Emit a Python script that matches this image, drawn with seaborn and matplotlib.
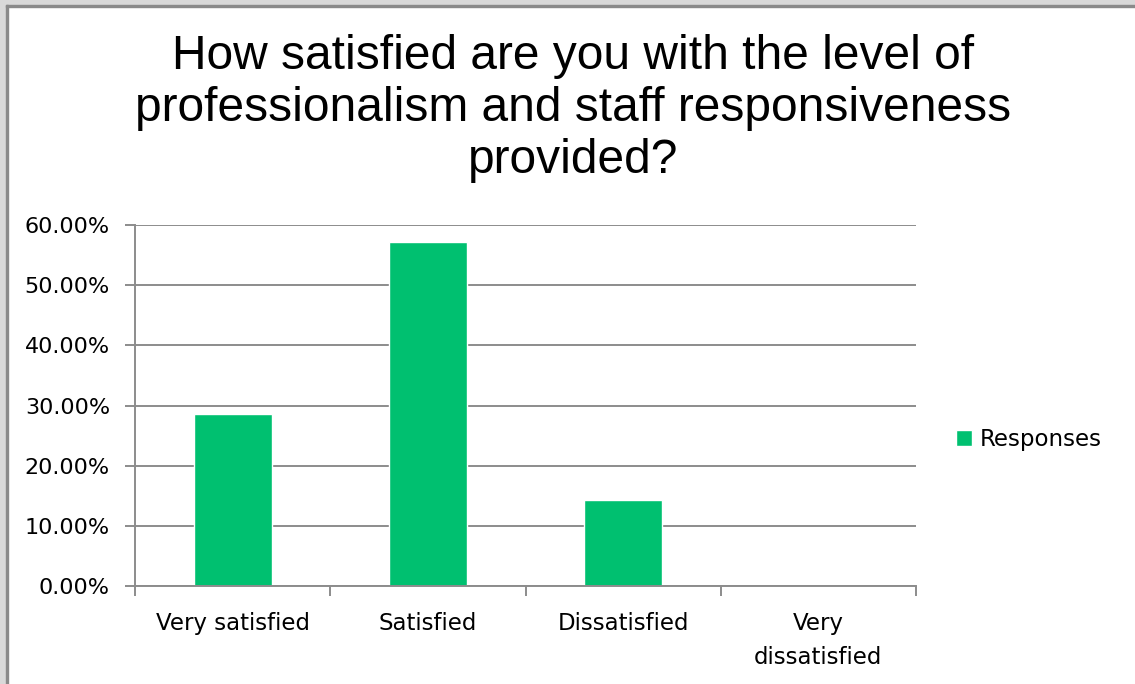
import pandas as pd
import matplotlib.pyplot as plt
import seaborn as sns
from matplotlib.patches import Rectangle
from matplotlib.ticker import PercentFormatter, FixedLocator

# chart data
categories = ["Very satisfied", "Satisfied", "Dissatisfied", "Very\ndissatisfied"]
responses = [28.57, 57.14, 14.29, 0.0]
title_text = "How satisfied are you with the level of\nprofessionalism and staff responsiveness\nprovided?"

df = pd.DataFrame({"category": categories, "Responses": responses})

sns.set_style("white")
plt.rcParams["font.family"] = ["DejaVu Sans"]

fig = plt.figure(figsize=(11.35, 6.84), dpi=100)
ax = fig.add_axes([135 / 1135, 98 / 684, 781 / 1135, 361 / 684])

green = "#00c070"
grid_c = "#8c8c8c"
sns.barplot(data=df, x="category", y="Responses", color=green, width=0.4,
            saturation=1, ax=ax, label="Responses")

ax.set_ylim(0, 60)
ax.set_xlim(-0.5, 3.5)
ax.set_yticks(range(0, 61, 10))
ax.yaxis.set_major_formatter(PercentFormatter(decimals=2))
ax.grid(axis="y", color=grid_c, linewidth=1.4)
ax.set_axisbelow(True)
ax.set_xlabel("")
ax.set_ylabel("")

for s in ["top", "right"]:
    ax.spines[s].set_visible(False)
for s in ["left", "bottom"]:
    ax.spines[s].set_color(grid_c)
    ax.spines[s].set_linewidth(1.4)

ax.tick_params(axis="y", which="major", left=True, length=7, color=grid_c,
               width=1.4, labelsize=16, pad=11, labelcolor="black")
ax.tick_params(axis="x", which="major", bottom=False, labelsize=16.5, pad=15,
               labelcolor="black")
for t in ax.get_xticklabels():
    t.set_linespacing(1.65)
ax.xaxis.set_minor_locator(FixedLocator([-0.5, 0.5, 1.5, 2.5, 3.5]))
ax.tick_params(axis="x", which="minor", bottom=True, length=7, color=grid_c,
               width=1.4)

leg = ax.legend(loc="center left", bbox_to_anchor=(1.025, 0.405), frameon=False,
                fontsize=16.5, handlelength=0.7, handleheight=0.7, handletextpad=0.35,
                labelcolor="black")

fig.suptitle(title_text, x=573 / 1135, y=0.95, fontsize=34.5, color="black",
             family="Liberation Sans", linespacing=1.2)

# window frame
fig.patches.append(Rectangle((0, 0), 6 / 1135, 1, transform=fig.transFigure,
                             color="#d9d9d9", zorder=0))
fig.patches.append(Rectangle((0, 1 - 5 / 684), 1, 5 / 684, transform=fig.transFigure,
                             color="#d9d9d9", zorder=0))
fig.patches.append(Rectangle((6 / 1135, 0), 2 / 1135, 1 - 5 / 684, transform=fig.transFigure,
                             color="#8a8a8a", zorder=0))
fig.patches.append(Rectangle((6 / 1135, 1 - 7 / 684), 1, 2 / 684, transform=fig.transFigure,
                             color="#8a8a8a", zorder=0))

fig.savefig("out.png", dpi=100)
